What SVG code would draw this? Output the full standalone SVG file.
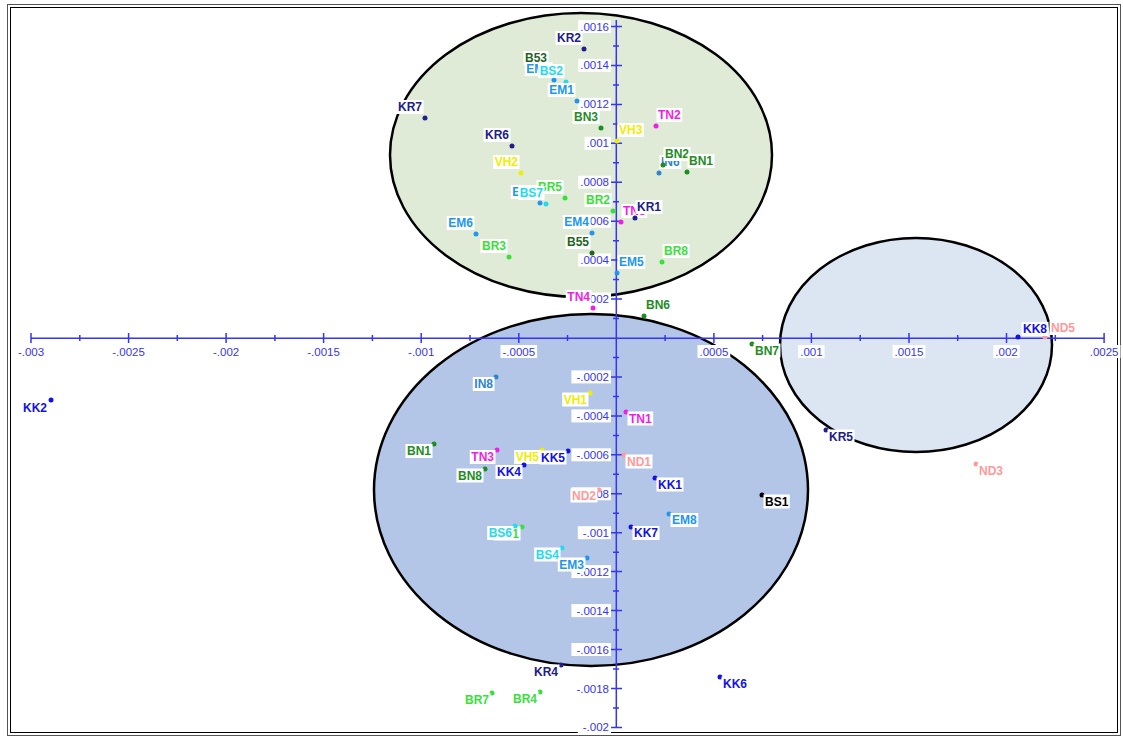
<svg xmlns="http://www.w3.org/2000/svg" width="1123" height="738" viewBox="0 0 1123 738">
<style>
.lbl{font-family:"Liberation Sans",Arial,sans-serif;font-size:12px;font-weight:bold}
.ax{font-family:"Liberation Sans",Arial,sans-serif;font-size:11.5px;fill:#3535f0}
.axr{text-anchor:end}
.axc{text-anchor:middle}
.e{text-anchor:end}
.bg{fill:#fff}
.ell{stroke:#000;stroke-width:2.5}
.kr{fill:#20208a}.kk{fill:#1212e8}.bn{fill:#1f8c1f}.br{fill:#3ae03a}.bs{fill:#22dcee}.em{fill:#2196f0}.vh{fill:#eeee00}.tn{fill:#f01ee6}.nd{fill:#ff9a9a}.in{fill:#2e86c8}.b5{fill:#23641a}.blk{fill:#000}
</style>
<rect x="0" y="0" width="1123" height="738" fill="#fff"/>
<rect x="7.5" y="4.5" width="1113" height="731" fill="none" stroke="#555" stroke-width="1"/>
<rect x="10.5" y="7.5" width="1107" height="725" fill="none" stroke="#000" stroke-width="1"/>

<g id="ellipses">
<ellipse id="cluster-top" class="ell" cx="581" cy="155" rx="191" ry="142" fill="#e0ebd7"/>
<ellipse id="cluster-right" class="ell" cx="916" cy="345" rx="136" ry="107" fill="#dce6f2"/>
<ellipse id="cluster-bottom" class="ell" cx="591" cy="490" rx="217" ry="176" fill="#b4c6e7"/>
</g>

<g id="axes" stroke="#3535f5" stroke-width="1.5" fill="none">
<path d="M31 338.3H1104.1"/>
<path d="M616.3 20V728"/>
<path d="M31 333V343M128.6 333V343M226.1 333V343M323.6 333V343M421.2 333V343M518.8 333V343M713.9 333V343M811.4 333V343M909 333V343M1006.5 333V343M1104.1 333V343"/>
<path d="M79.8 335V341M177.3 335V341M274.9 335V341M372.4 335V341M470 335V341M567.5 335V341M665.1 335V341M762.6 335V341M860.2 335V341M957.7 335V341M1055.3 335V341"/>
<path d="M610 26.5H622M610 65.4H622M610 104.4H622M610 143.3H622M610 182.2H622M610 221.2H622M610 260.1H622M610 299.1H622M610 376.9H622M610 415.9H622M610 454.8H622M610 493.8H622M610 532.7H622M610 571.6H622M610 610.6H622M610 649.5H622M610 688.5H622M610 727.4H622"/>
<path d="M613 46H619M613 84.9H619M613 123.9H619M613 162.8H619M613 201.7H619M613 240.7H619M613 279.6H619M613 318.6H619M613 357.5H619M613 396.4H619M613 435.4H619M613 474.3H619M613 513.3H619M613 552.2H619M613 591.1H619M613 630.1H619M613 669H619M613 708H619"/>
</g>

<g id="x-labels">
<rect class="bg" x="15.9" y="345" width="30.2" height="13"/><text class="ax axc" x="31" y="356">-.003</text>
<rect class="bg" x="110.3" y="345" width="36.6" height="13"/><text class="ax axc" x="128.6" y="356">-.0025</text>
<rect class="bg" x="211" y="345" width="30.2" height="13"/><text class="ax axc" x="226.1" y="356">-.002</text>
<rect class="bg" x="305.3" y="345" width="36.6" height="13"/><text class="ax axc" x="323.6" y="356">-.0015</text>
<rect class="bg" x="406.1" y="345" width="30.2" height="13"/><text class="ax axc" x="421.2" y="356">-.001</text>
<rect class="bg" x="500.5" y="345" width="36.6" height="13"/><text class="ax axc" x="518.8" y="356">-.0005</text>
<rect class="bg" x="697.5" y="345" width="32.8" height="13"/><text class="ax axc" x="713.9" y="356">.0005</text>
<rect class="bg" x="798.2" y="345" width="26.4" height="13"/><text class="ax axc" x="811.4" y="356">.001</text>
<rect class="bg" x="892.6" y="345" width="32.8" height="13"/><text class="ax axc" x="909" y="356">.0015</text>
<rect class="bg" x="993.3" y="345" width="26.4" height="13"/><text class="ax axc" x="1006.5" y="356">.002</text>
<rect class="bg" x="1087.7" y="345" width="32.8" height="13"/><text class="ax axc" x="1104.1" y="356">.0025</text>
</g>

<g id="y-labels">
<rect class="bg" x="578.2" y="20" width="32.8" height="13"/><text class="ax axr" x="609" y="30.5">.0016</text>
<rect class="bg" x="578.2" y="58.9" width="32.8" height="13"/><text class="ax axr" x="609" y="69.4">.0014</text>
<rect class="bg" x="578.2" y="97.9" width="32.8" height="13"/><text class="ax axr" x="609" y="108.4">.0012</text>
<rect class="bg" x="584.6" y="136.8" width="26.4" height="13"/><text class="ax axr" x="609" y="147.3">.001</text>
<rect class="bg" x="578.2" y="175.7" width="32.8" height="13"/><text class="ax axr" x="609" y="186.2">.0008</text>
<rect class="bg" x="578.2" y="214.7" width="32.8" height="13"/><text class="ax axr" x="609" y="225.2">.0006</text>
<rect class="bg" x="578.2" y="253.6" width="32.8" height="13"/><text class="ax axr" x="609" y="264.1">.0004</text>
<rect class="bg" x="578.2" y="292.6" width="32.8" height="13"/><text class="ax axr" x="609" y="303.1">.0002</text>
<rect class="bg" x="571.4" y="370.4" width="39.6" height="13"/><text class="ax axr" x="609" y="380.9">-.0002</text>
<rect class="bg" x="571.4" y="409.4" width="39.6" height="13"/><text class="ax axr" x="609" y="419.9">-.0004</text>
<rect class="bg" x="571.4" y="448.3" width="39.6" height="13"/><text class="ax axr" x="609" y="458.8">-.0006</text>
<rect class="bg" x="571.4" y="487.3" width="39.6" height="13"/><text class="ax axr" x="609" y="497.8">-.0008</text>
<rect class="bg" x="577.8" y="526.2" width="33.2" height="13"/><text class="ax axr" x="609" y="536.7">-.001</text>
<rect class="bg" x="571.4" y="565.1" width="39.6" height="13"/><text class="ax axr" x="609" y="575.6">-.0012</text>
<rect class="bg" x="571.4" y="604.1" width="39.6" height="13"/><text class="ax axr" x="609" y="614.6">-.0014</text>
<rect class="bg" x="571.4" y="643" width="39.6" height="13"/><text class="ax axr" x="609" y="653.5">-.0016</text>
<rect class="bg" x="571.4" y="682" width="39.6" height="13"/><text class="ax axr" x="609" y="692.5">-.0018</text>
<rect class="bg" x="577.8" y="720.9" width="33.2" height="13"/><text class="ax axr" x="609" y="731.4">-.002</text>
</g>

<g id="connectors"></g>

<g id="nodes" class="lbl">
<g id="n-BS3"><circle class="b5" cx="550" cy="69" r="2.5"/><rect class="bg" x="523.5" y="51" width="25" height="14"/><text class="b5 e" x="547" y="62">B53</text></g>
<g id="n-EM7"><circle class="em" cx="554" cy="80" r="2.5"/><rect class="bg" x="524.8" y="62" width="27.7" height="14"/><text class="em e" x="551" y="73">EM7</text></g>
<g id="n-BS2"><circle class="bs" cx="566" cy="82" r="2.5"/><rect class="bg" x="538.2" y="64" width="26.3" height="14"/><text class="bs e" x="563" y="75">BS2</text></g>
<g id="n-EM1"><circle class="em" cx="577" cy="101" r="2.5"/><rect class="bg" x="547.8" y="83" width="27.7" height="14"/><text class="em e" x="574" y="94">EM1</text></g>
<g id="n-KR2"><circle class="kr" cx="584" cy="49" r="2.5"/><rect class="bg" x="555.5" y="31" width="27" height="14"/><text class="kr e" x="581" y="42">KR2</text></g>
<g id="n-KR7"><circle class="kr" cx="425" cy="118" r="2.5"/><rect class="bg" x="396.5" y="100" width="27" height="14"/><text class="kr e" x="422" y="111">KR7</text></g>
<g id="n-KR6"><circle class="kr" cx="512" cy="146" r="2.5"/><rect class="bg" x="483.5" y="128" width="27" height="14"/><text class="kr e" x="509" y="139">KR6</text></g>
<g id="n-BN3"><circle class="bn" cx="601" cy="128" r="2.5"/><rect class="bg" x="572.5" y="110" width="27" height="14"/><text class="bn e" x="598" y="121">BN3</text></g>
<g id="n-VH3"><circle class="vh" cx="617" cy="141" r="2.5"/><rect class="bg" x="617.5" y="123" width="26.3" height="14"/><text class="vh" x="619" y="134">VH3</text></g>
<g id="n-TN2"><circle class="tn" cx="656" cy="126" r="2.5"/><rect class="bg" x="656.5" y="108" width="25.7" height="14"/><text class="tn" x="658" y="119">TN2</text></g>
<g id="n-IN6"><circle class="in" cx="659" cy="173" r="2.5"/><rect class="bg" x="659.5" y="155" width="21.7" height="14"/><text class="in" x="661" y="166">IN6</text></g>
<g id="n-BN2"><circle class="bn" cx="663" cy="165" r="2.5"/><rect class="bg" x="663.5" y="147" width="27" height="14"/><text class="bn" x="665" y="158">BN2</text></g>
<g id="n-BN1"><circle class="bn" cx="687" cy="172" r="2.5"/><rect class="bg" x="687.5" y="154" width="27" height="14"/><text class="bn" x="689" y="165">BN1</text></g>
<g id="n-VH2"><circle class="vh" cx="521" cy="173" r="2.5"/><rect class="bg" x="493.2" y="155" width="26.3" height="14"/><text class="vh e" x="518" y="166">VH2</text></g>
<g id="n-EM2"><circle class="em" cx="540" cy="203" r="2.5"/><rect class="bg" x="510.8" y="185" width="27.7" height="14"/><text class="em e" x="537" y="196">EM2</text></g>
<g id="n-BR5"><circle class="br" cx="565" cy="198" r="2.5"/><rect class="bg" x="536.5" y="180" width="27" height="14"/><text class="br e" x="562" y="191">BR5</text></g>
<g id="n-BS7"><circle class="bs" cx="546" cy="204" r="2.5"/><rect class="bg" x="518.2" y="186" width="26.3" height="14"/><text class="bs e" x="543" y="197">BS7</text></g>
<g id="n-BR2"><circle class="br" cx="613" cy="211" r="2.5"/><rect class="bg" x="584.5" y="193" width="27" height="14"/><text class="br e" x="610" y="204">BR2</text></g>
<g id="n-TN5"><circle class="tn" cx="621" cy="222" r="2.5"/><rect class="bg" x="621.5" y="204" width="25.7" height="14"/><text class="tn" x="623" y="215">TN5</text></g>
<g id="n-KR1"><circle class="kr" cx="635" cy="218" r="2.5"/><rect class="bg" x="635.5" y="200" width="27" height="14"/><text class="kr" x="637" y="211">KR1</text></g>
<g id="n-EM4"><circle class="em" cx="592" cy="233" r="2.5"/><rect class="bg" x="562.8" y="215" width="27.7" height="14"/><text class="em e" x="589" y="226">EM4</text></g>
<g id="n-BS5"><circle class="b5" cx="592" cy="253" r="2.5"/><rect class="bg" x="565.5" y="235" width="25" height="14"/><text class="b5 e" x="589" y="246">B55</text></g>
<g id="n-EM5"><circle class="em" cx="617" cy="273" r="2.5"/><rect class="bg" x="617.5" y="255" width="27.7" height="14"/><text class="em" x="619" y="266">EM5</text></g>
<g id="n-BR8"><circle class="br" cx="662" cy="262" r="2.5"/><rect class="bg" x="662.5" y="244" width="27" height="14"/><text class="br" x="664" y="255">BR8</text></g>
<g id="n-EM6"><circle class="em" cx="476" cy="234" r="2.5"/><rect class="bg" x="446.8" y="216" width="27.7" height="14"/><text class="em e" x="473" y="227">EM6</text></g>
<g id="n-BR3"><circle class="br" cx="509" cy="257" r="2.5"/><rect class="bg" x="480.5" y="239" width="27" height="14"/><text class="br e" x="506" y="250">BR3</text></g>
<g id="n-TN4"><circle class="tn" cx="593" cy="308" r="2.5"/><rect class="bg" x="565.8" y="290" width="25.7" height="14"/><text class="tn e" x="590" y="301">TN4</text></g>
<g id="n-BN6"><circle class="bn" cx="644" cy="316" r="2.5"/><rect class="bg" x="644.5" y="298" width="27" height="14"/><text class="bn" x="646" y="309">BN6</text></g>

<g id="n-BN7"><circle class="bn" cx="752" cy="344" r="2.5"/><rect class="bg" x="753.5" y="343.5" width="27" height="14"/><text class="bn" x="755" y="354.5">BN7</text></g>
<g id="n-ND5"><circle class="nd" cx="1045" cy="337" r="2.5"/><rect class="bg" x="1049.5" y="321" width="27" height="14"/><text class="nd" x="1051" y="332">ND5</text></g>
<g id="n-KK8"><circle class="kk" cx="1018" cy="337" r="2.5"/><rect class="bg" x="1021.5" y="322" width="27" height="14"/><text class="kk" x="1023" y="333">KK8</text></g>
<g id="n-KR5"><circle class="kr" cx="826" cy="430" r="2.5"/><rect class="bg" x="827.5" y="429.5" width="27" height="14"/><text class="kr" x="829" y="440.5">KR5</text></g>
<g id="n-ND3"><circle class="nd" cx="976" cy="464" r="2.5"/><rect class="bg" x="977.5" y="463.5" width="27" height="14"/><text class="nd" x="979" y="474.5">ND3</text></g>
<g id="n-KK2"><circle class="kk" cx="51" cy="400" r="2.5"/><rect class="bg" x="21.5" y="401" width="27" height="14"/><text class="kk e" x="47" y="412">KK2</text></g>

<g id="n-IN8"><circle class="in" cx="496" cy="377" r="2.5"/><rect class="bg" x="472.8" y="377" width="21.7" height="14"/><text class="in e" x="493" y="388">IN8</text></g>
<g id="n-VH1"><circle class="vh" cx="590" cy="393" r="2.5"/><rect class="bg" x="562.2" y="392.5" width="26.3" height="14"/><text class="vh e" x="587" y="403.5">VH1</text></g>
<g id="n-BN1b"><circle class="bn" cx="434" cy="444" r="2.5"/><rect class="bg" x="405.5" y="444" width="27" height="14"/><text class="bn e" x="431" y="455">BN1</text></g>
<g id="n-TN3"><circle class="tn" cx="497" cy="450" r="2.5"/><rect class="bg" x="469.8" y="450" width="25.7" height="14"/><text class="tn e" x="494" y="461">TN3</text></g>
<g id="n-VH5"><circle class="vh" cx="542" cy="450" r="2.5"/><rect class="bg" x="514.2" y="450" width="26.3" height="14"/><text class="vh e" x="539" y="461">VH5</text></g>
<g id="n-KK5"><circle class="kk" cx="568" cy="451" r="2.5"/><rect class="bg" x="539.5" y="450.5" width="27" height="14"/><text class="kk e" x="565" y="461.5">KK5</text></g>
<g id="n-KK4"><circle class="kk" cx="524" cy="465" r="2.5"/><rect class="bg" x="495.5" y="465" width="27" height="14"/><text class="kk e" x="521" y="476">KK4</text></g>
<g id="n-BN8"><circle class="bn" cx="485" cy="469" r="2.5"/><rect class="bg" x="456.5" y="468.5" width="27" height="14"/><text class="bn e" x="482" y="479.5">BN8</text></g>
<g id="n-ND2"><circle class="nd" cx="599" cy="490" r="2.5"/><rect class="bg" x="570.5" y="488.5" width="27" height="14"/><text class="nd e" x="596" y="499.5">ND2</text></g>
<g id="n-TN1"><circle class="tn" cx="626" cy="412" r="2.5"/><rect class="bg" x="627.5" y="411.5" width="25.7" height="14"/><text class="tn" x="629" y="422.5">TN1</text></g>
<g id="n-ND1"><circle class="nd" cx="624" cy="455" r="2.5"/><rect class="bg" x="625.5" y="454.5" width="27" height="14"/><text class="nd" x="627" y="465.5">ND1</text></g>
<g id="n-KK1"><circle class="kk" cx="655" cy="478" r="2.5"/><rect class="bg" x="656.5" y="477.5" width="27" height="14"/><text class="kk" x="658" y="488.5">KK1</text></g>
<g id="n-BS1"><circle class="blk" cx="762" cy="495" r="2.5"/><rect class="bg" x="763.5" y="494.5" width="26.3" height="14"/><text class="blk" x="765" y="505.5">BS1</text></g>
<g id="n-EM8"><circle class="em" cx="669" cy="514" r="2.5"/><rect class="bg" x="670.5" y="513" width="27.7" height="14"/><text class="em" x="672" y="524">EM8</text></g>
<g id="n-KK7"><circle class="kk" cx="631" cy="527" r="2.5"/><rect class="bg" x="632.5" y="526" width="27" height="14"/><text class="kk" x="634" y="537">KK7</text></g>
<g id="n-BR1"><circle class="br" cx="522" cy="527" r="2.5"/><rect class="bg" x="493.5" y="526.5" width="27" height="14"/><text class="br e" x="519" y="537.5">BR1</text></g>
<g id="n-BS6"><circle class="bs" cx="515" cy="526" r="2.5"/><rect class="bg" x="487.2" y="526" width="26.3" height="14"/><text class="bs e" x="512" y="537">BS6</text></g>
<g id="n-BS4"><circle class="bs" cx="562" cy="548" r="2.5"/><rect class="bg" x="534.2" y="547.5" width="26.3" height="14"/><text class="bs e" x="559" y="558.5">BS4</text></g>
<g id="n-EM3"><circle class="em" cx="587" cy="558" r="2.5"/><rect class="bg" x="557.8" y="557.5" width="27.7" height="14"/><text class="em e" x="584" y="568.5">EM3</text></g>
<g id="n-KR4"><circle class="kr" cx="561" cy="665" r="2.5"/><rect class="bg" x="532.5" y="664.5" width="27" height="14"/><text class="kr e" x="558" y="675.5">KR4</text></g>
<g id="n-BR7"><circle class="br" cx="492" cy="693" r="2.5"/><rect class="bg" x="463.5" y="693" width="27" height="14"/><text class="br e" x="489" y="704">BR7</text></g>
<g id="n-BR4"><circle class="br" cx="540" cy="692" r="2.5"/><rect class="bg" x="511.5" y="691.5" width="27" height="14"/><text class="br e" x="537" y="702.5">BR4</text></g>
<g id="n-KK6"><circle class="kk" cx="720" cy="677" r="2.5"/><rect class="bg" x="721.5" y="676.5" width="27" height="14"/><text class="kk" x="723" y="687.5">KK6</text></g>
</g>
</svg>
